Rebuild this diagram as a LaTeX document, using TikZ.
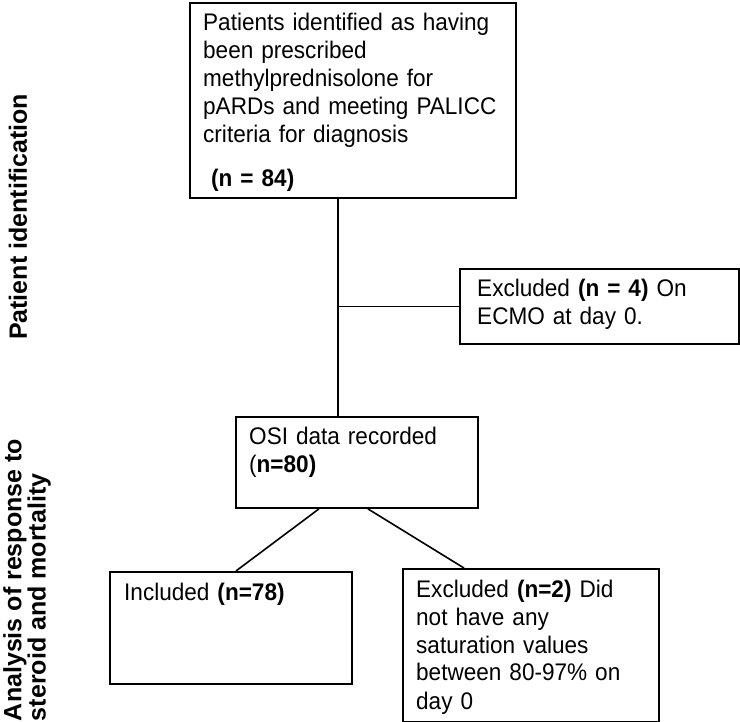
\documentclass[tikz,border=0pt]{standalone}
\usepackage{fontspec}
\setmainfont{Liberation Sans}[FakeStretch=0.94]
\newfontfamily\labelfont{Liberation Sans}
\usepackage{tikz}
\usetikzlibrary{positioning}

\begin{document}
\begin{tikzpicture}[x=1pt, y=-1pt,
    flowbox/.style={draw, line width=1.9pt, inner sep=0pt, anchor=north west},
    flowtext/.style={anchor=base west, inner sep=0pt, text width=320pt, align=left,
        font=\fontsize{24}{28}\selectfont},
    sidelabel/.style={rotate=90, inner sep=0pt, align=left,
        font=\labelfont\bfseries\fontsize{25}{23}\selectfont},
    link/.style={line width=1.6pt}]
    \useasboundingbox[fill=white] (0,0) rectangle (740,722);

    \node[flowbox, minimum width=326pt, minimum height=195pt] (idbox) at (189,2) {};
    \node[flowbox, minimum width=279pt, minimum height=75pt] (exclbox) at (459,268) {};
    \node[flowbox, minimum width=242pt, minimum height=91pt] (osibox) at (235,416) {};
    \node[flowbox, minimum width=242pt, minimum height=112pt] (inclbox) at (109,571) {};
    \node[flowbox, minimum width=256pt, minimum height=153pt] (satbox) at (402,568) {};

    \node[flowtext] (idtext) at ([shift={(14,29)}]idbox.north west)
        {Patients identified as having\\been prescribed\\methylprednisolone for\\pARDs and meeting PALICC\\criteria for diagnosis\\[16pt]\hspace*{8pt}\textbf{(n = 84)}};
    \node[flowtext] (excltext) at ([shift={(18,29)}]exclbox.north west)
        {Excluded \textbf{(n = 4)} On\\ECMO at day 0.};
    \node[flowtext] (ositext) at ([shift={(14,29)}]osibox.north west)
        {OSI data recorded\\(\textbf{n=80)}};
    \node[flowtext] (incltext) at ([shift={(15,29)}]inclbox.north west)
        {Included \textbf{(n=78)}};
    \node[flowtext] (sattext) at ([shift={(14,29)}]satbox.north west)
        {Excluded \textbf{(n=2)} Did\\not have any\\saturation values\\between 80-97\% on\\day 0};

    \node[sidelabel] (idlabel) at (18,217) {Patient identification};
    \node[sidelabel] (anlabel) at (27,580) {Analysis of response to\\steroid and mortality};

    \coordinate (trunk) at (338,0);
    \draw[link] (idbox.south -| trunk) -- (osibox.north -| trunk);
    \draw[link] (exclbox.west -| trunk) -- (exclbox.west);
    \draw[link] ([xshift=-38pt]osibox.south) -- ([xshift=5pt]inclbox.north);
    \draw[link] ([xshift=11pt]osibox.south) -- ([xshift=-67pt]satbox.north);
\end{tikzpicture}
\end{document}
